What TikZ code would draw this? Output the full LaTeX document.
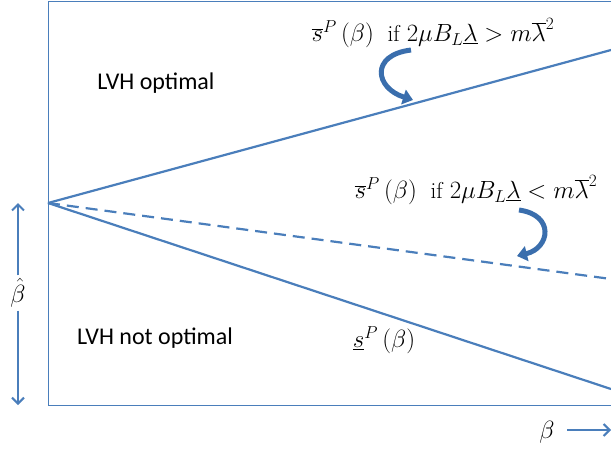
\documentclass[tikz,border=0pt]{standalone}
\usepackage{fontspec}
\setsansfont{Carlito}
\usetikzlibrary{arrows.meta}
\definecolor{lineblue}{HTML}{4A7EBB}
\definecolor{arrblue}{HTML}{3A6EAD}
\begin{document}
\begin{tikzpicture}[x=1pt,y=-1pt,
  region/.style={font=\sffamily\fontsize{24}{28}\selectfont, inner sep=0pt},
  mathlbl/.style={font=\fontsize{23}{27}\selectfont, inner sep=0pt},
  biglbl/.style={font=\fontsize{27}{30}\selectfont, inner sep=3pt},
  mainline/.style={draw=lineblue, line width=2.2pt},
  frameline/.style={draw=lineblue, line width=1pt},
  curvy/.style={draw=arrblue, line width=5pt, -{Triangle[width=15pt,length=10pt]}},
  axisarrow/.style={draw=lineblue, line width=2pt, -{Straight Barb[length=6pt,width=12pt]}}]
\useasboundingbox (0,0) rectangle (611,450);
\clip (0,0) rectangle (611,450);
% frame
\coordinate (tl) at (48,1);
\coordinate (bl) at (48,405);
\coordinate (tr) at (620,1);
\coordinate (br) at (620,405);
\draw[frameline] (tr) -- (tl) -- (bl) -- (br);
% lines
\coordinate (apex) at (48,203);
\coordinate (upend) at (611,50);
\coordinate (dashend) at (611,279);
\coordinate (lowend) at (611,389);
\draw[mainline] (apex) -- (upend);
\draw[mainline] (apex) -- (lowend);
\draw[mainline, dash pattern=on 12pt off 7pt] (apex) -- (dashend);
% region labels
\node[region] (opt) at (156,83) {LVH optimal};
\node[region] (notopt) at (155,338) {LVH not optimal};
% math labels
\node[mathlbl] (upper) at (433,33) {$\overline{s}^P\left(\beta\right)$\ \ if $2\mu B_L\underline{\lambda} > m\overline{\lambda}^2$};
\node[mathlbl] (middle) at (476,190) {$\overline{s}^P\left(\beta\right)$\ \ if $2\mu B_L\underline{\lambda} < m\overline{\lambda}^2$};
\node[mathlbl] (lower) at (384,340) {$\underline{s}^P\left(\beta\right)$};
% curved arrows
\coordinate (c1s) at (411,50);
\coordinate (c1e) at (413,100);
\draw[curvy] (c1s) .. controls (370,55) and (375,88) .. (c1e);
\coordinate (c2s) at (519,210);
\coordinate (c2e) at (517,256);
\draw[curvy] (c2s) .. controls (555,215) and (550,248) .. (c2e);
% axis labels
\node[biglbl] (bhat) at (18,293) {$\hat{\beta}$};
\coordinate (bhtop) at (18,203);
\coordinate (bhbot) at (18,405);
\draw[axisarrow] (bhat.north) -- (bhtop);
\draw[axisarrow] (bhat.south) -- (bhbot);
\node[biglbl] (beta) at (547,432) {$\beta$};
\coordinate (betastart) at (567,430);
\coordinate (betaend) at (611,430);
\draw[axisarrow] (betastart) -- (betaend);
\end{tikzpicture}
\end{document}
